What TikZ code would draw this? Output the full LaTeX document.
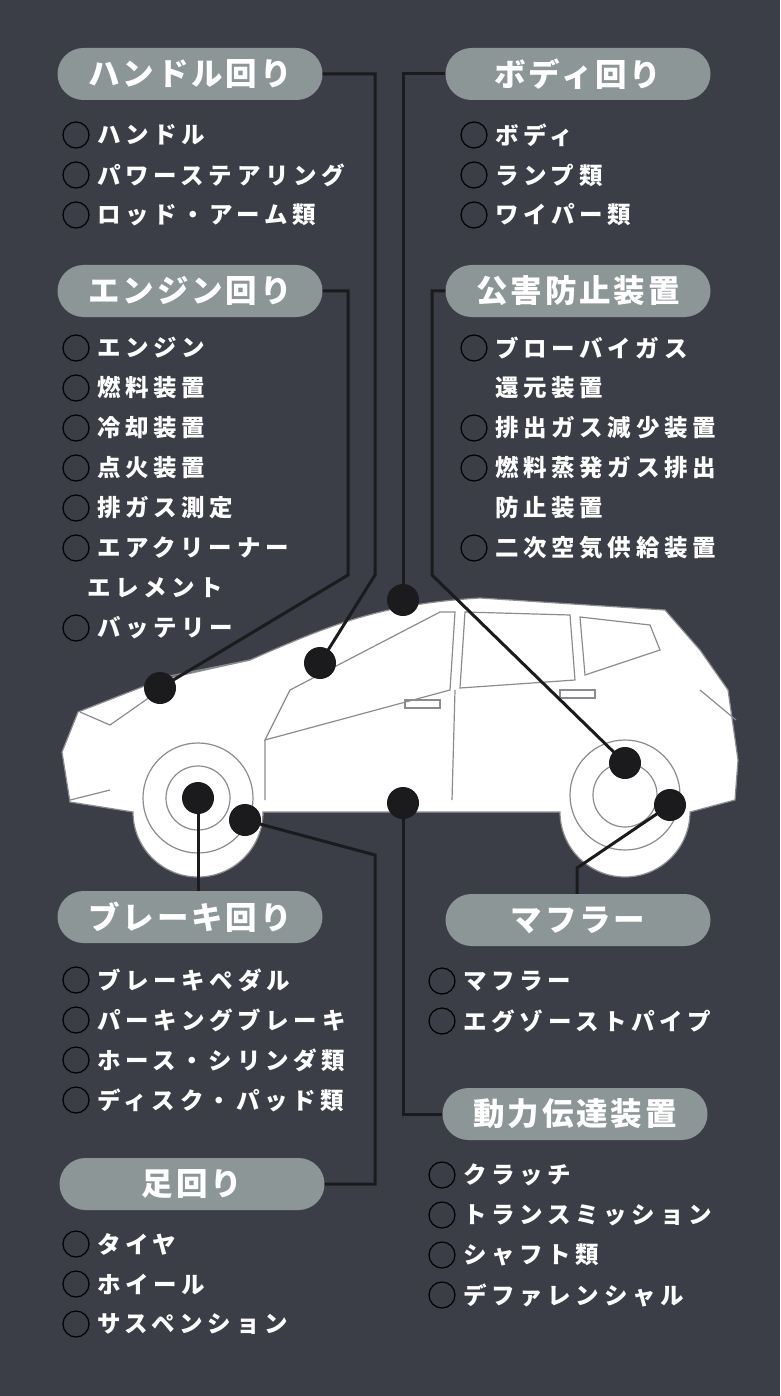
\documentclass[tikz,border=0pt]{standalone}
\usepackage{fontspec}
\newfontfamily\jp{Noto Sans CJK JP}[LetterSpace=20]
\newfontfamily\jphead{Noto Sans CJK JP}[LetterSpace=9]
\definecolor{bgcol}{HTML}{3B3E47}
\definecolor{pillcol}{HTML}{8C9696}
\definecolor{linecol}{HTML}{1B1B1D}
\definecolor{carline}{HTML}{8A8C90}
\tikzset{
  pill/.style={rounded corners=26pt, fill=pillcol, minimum width=265pt, minimum height=52pt,
    text=white, font=\jphead\bfseries\fontsize{31.5}{31.5}\selectfont},
  item/.style={anchor=west, text=white, inner sep=0pt, font=\jp\bfseries\fontsize{23.5}{23.5}\selectfont},
  bullet/.style={circle, draw=black, fill=bgcol, line width=1.2pt, minimum size=26pt, inner sep=0pt},
  dot/.style={circle, fill=linecol, minimum size=32pt, inner sep=0pt},
  link/.style={draw=linecol, line width=3pt},
  car/.style={draw=carline, line width=1.2pt}
}
\newcommand{\listat}[3]{% x, y, items
  \foreach \txt [count=\i from 0] in {#3} {
    \node[bullet] (b#1-\i) at (#1,#2+40*\i) {};
    \node[item] at (#1+21,#2+40*\i) {\txt};
  }}
\begin{document}
\begin{tikzpicture}[x=1pt,y=-1pt]
	\fill[bgcol] (0,0) rectangle (780,1396);
	\useasboundingbox (0,0) rectangle (780,1396);

	%% Car body
	\path[car, fill=white] (70,802) -- (62,752) -- (78,712) -- (160,680) -- (250,660)
		.. controls (330,625) and (380,604) .. (480,598) -- (665,610) -- (700,650) -- (728,690)
		-- (738,760) -- (735,800) -- (690,812) arc[start angle=0, end angle=180, radius=65]
		-- (263,812) arc[start angle=0, end angle=180, radius=65] -- cycle;
	\draw[car] (265,740) -- (290,690) -- (440,612) -- (455,612) -- (450,690) -- cycle;
	\draw[car] (465,612) -- (570,615) -- (575,680) -- (460,688) -- cycle;
	\draw[car] (580,617) -- (650,625) -- (660,650) -- (585,675) -- cycle;
	\draw[car] (265,740) -- (265,800) (455,690) -- (452,800) (150,680) -- (250,660);
	\draw[car] (80,712) -- (110,725) -- (160,690);
	\draw[car] (70,800) -- (110,790) (700,690) -- (736,720);
	\draw[car] (405,700) rectangle (440,708) (560,690) rectangle (595,698);
	\foreach \cx/\cy in {198/798, 625/795} {
		\draw[car, fill=white] (\cx,\cy) circle (55);
		\draw[car] (\cx,\cy) circle (32);
	}

	%% Group headers
	\node[pill] (handle) at (190,74) {ハンドル回り};
	\node[pill] (body) at (578,74) {ボディ回り};
	\node[pill] (engine) at (190,291) {エンジン回り};
	\node[pill] (emission) at (578,291) {公害防止装置};
	\node[pill] (brake) at (190,917) {ブレーキ回り};
	\node[pill] (muffler) at (578,920) {マフラー};
	\node[pill] (drive) at (575,1114) {動力伝達装置};
	\node[pill] (foot) at (192,1184) {足回り};

	%% Lists
	\listat{76}{135}{ハンドル,パワーステアリング,ロッド・アーム類}
	\listat{474}{135}{ボディ,ランプ類,ワイパー類}
	\listat{76}{348}{エンジン,燃料装置,冷却装置,点火装置,排ガス測定,エアクリーナー}
	\node[item] at (87,588) {エレメント};
	\listat{76}{628}{バッテリー}
	\listat{474}{348}{ブローバイガス}
	\node[item] at (495,388) {還元装置};
	\listat{474}{428}{排出ガス減少装置,燃料蒸発ガス排出}
	\node[item] at (495,508) {防止装置};
	\listat{474}{548}{二次空気供給装置}
	\listat{76}{980}{ブレーキペダル,パーキングブレーキ,ホース・シリンダ類,ディスク・パッド類}
	\listat{442}{981}{マフラー,エグゾーストパイプ}
	\listat{442}{1175}{クラッチ,トランスミッション,シャフト類,デファレンシャル}
	\listat{76}{1244}{タイヤ,ホイール,サスペンション}

	%% Points on the car
	\node[dot] (pHandle) at (320,663) {};
	\node[dot] (pEngine) at (160,688) {};
	\node[dot] (pBody) at (403,600) {};
	\node[dot] (pEmission) at (625,763) {};
	\node[dot] (pBrake) at (198,798) {};
	\node[dot] (pFoot) at (245,820) {};
	\node[dot] (pDrive) at (403,803) {};
	\node[dot] (pMuffler) at (670,805) {};

	%% Connectors
	\draw[link] (handle.east) -| (375,575) -- (pHandle.center);
	\draw[link] (engine.east) -| (348,575) -- (pEngine.center);
	\draw[link] (body.west) -| (pBody.center);
	\draw[link] (emission.west) -| (432,575) -- (pEmission.center);
	\draw[link] (pBrake.center) -- (brake.north -| pBrake);
	\draw[link] (pFoot.center) -- (375,855) |- (foot.east);
	\draw[link] (pDrive.center) |- (drive.west);
	\draw[link] (pMuffler.center) -- (577,868) -- (muffler.north -| 577,0);
\end{tikzpicture}
\end{document}
